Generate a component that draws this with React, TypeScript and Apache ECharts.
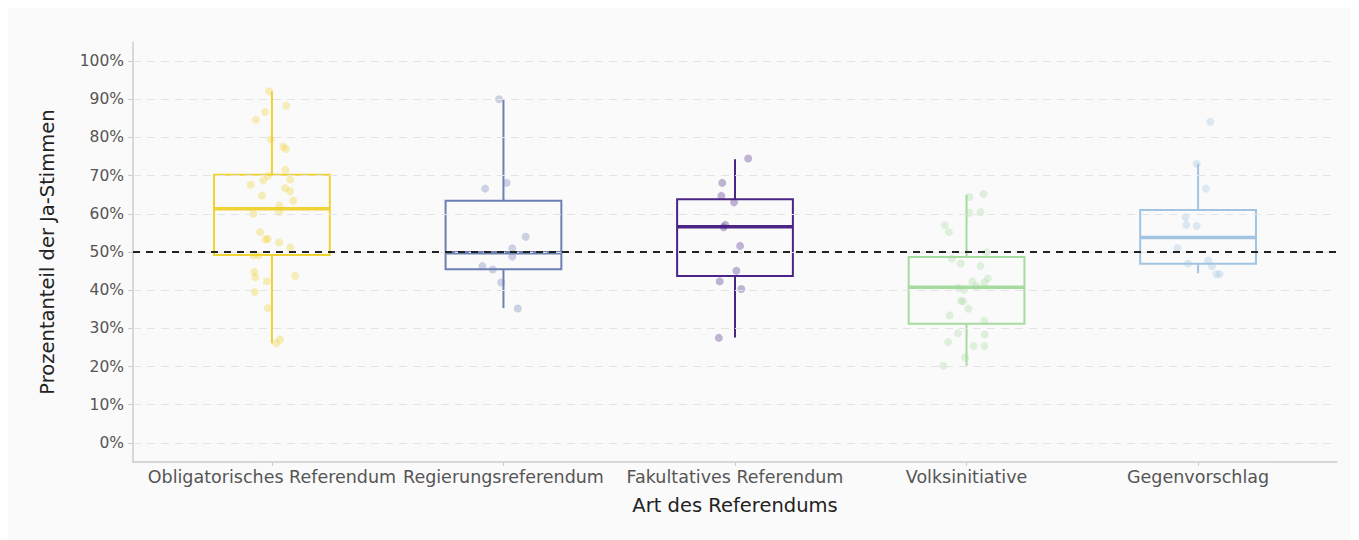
import React, { useEffect, useRef } from "react";
import * as echarts from "echarts";

const categories = [
  "Obligatorisches Referendum",
  "Regierungsreferendum",
  "Fakultatives Referendum",
  "Volksinitiative",
  "Gegenvorschlag",
];
const colors = ["#EFD234", "#6C80B3", "#4A2585", "#A6DBA0", "#A2C4E2"];
const yTicks = [0, 10, 20, 30, 40, 50, 60, 70, 80, 90, 100];
const threshold = 50;

// [min, q1, median, q3, max]
const boxStats = [
  [26.1, 49.2, 61.3, 70.2, 92.1],
  [35.3, 45.5, 49.8, 63.4, 89.8],
  [27.6, 43.7, 56.6, 63.8, 74.3],
  [20.2, 31.2, 40.8, 48.7, 65.0],
  [44.4, 46.9, 53.8, 61.0, 73.1],
];

// observed values (% yes) per category
const obligVals = [92.1, 88.3, 86.7, 84.6, 79.5, 77.6, 77.0, 71.5, 69.9, 68.8, 69.0, 67.6, 66.7, 65.9, 64.8, 63.4, 62.2, 60.4, 60.0, 55.2, 53.3, 53.4, 52.5, 51.2, 49.1, 49.1, 44.8, 43.4, 42.3, 43.8, 39.5, 35.3, 27.1, 26.1];
const obligJit = [-0.013, 0.062, -0.03, -0.069, -0.005, 0.049, 0.06, 0.058, -0.017, -0.037, 0.079, -0.092, 0.057, 0.078, -0.043, 0.092, 0.032, 0.032, -0.08, -0.051, -0.028, -0.018, 0.031, 0.079, -0.08, -0.057, -0.076, -0.072, -0.022, 0.1, -0.074, -0.018, 0.035, 0.019];
const regVals = [90.0, 68.1, 66.6, 54.0, 51.0, 48.8, 46.3, 45.4, 42.0, 35.2];
const regJit = [-0.019, 0.014, -0.079, 0.096, 0.038, 0.038, -0.091, -0.046, -0.01, 0.062];
const fakVals = [74.5, 68.1, 64.7, 63.0, 57.1, 56.5, 51.6, 45.1, 42.3, 40.3, 27.5];
const fakJit = [0.057, -0.055, -0.059, -0.004, -0.042, -0.049, 0.022, 0.006, -0.066, 0.027, -0.07];
const volkVals = [65.2, 64.4, 60.3, 60.4, 57.0, 55.2, 49.9, 48.3, 47.0, 46.3, 43.1, 42.3, 42.0, 41.1, 40.6, 40.1, 37.2, 37.1, 35.1, 33.4, 32.0, 28.7, 28.4, 26.4, 25.4, 25.4, 22.4, 20.2];
const volkJit = [0.073, 0.012, 0.012, 0.06, -0.094, -0.076, 0.087, -0.063, -0.025, 0.06, 0.092, 0.025, 0.077, 0.042, -0.035, -0.011, -0.024, -0.014, 0.008, -0.073, 0.077, -0.037, 0.079, -0.079, 0.031, 0.077, -0.006, -0.1];
const gegVals = [84.1, 73.1, 66.6, 59.1, 57.1, 56.8, 51.0, 47.0, 47.8, 46.3, 44.2, 44.2];
const gegJit = [0.053, -0.006, 0.034, -0.054, -0.051, -0.006, -0.089, -0.044, 0.044, 0.06, 0.079, 0.093];

const pointVals = [obligVals, regVals, fakVals, volkVals, gegVals];
const pointJit = [obligJit, regJit, fakJit, volkJit, gegJit];

const FONT = "'DejaVu Sans', sans-serif";
const BOX_HALF = 0.25;

export default function App() {
  const ref = useRef<HTMLDivElement>(null);
  useEffect(() => {
    if (!ref.current) return;
    const chart = echarts.init(ref.current, undefined, { renderer: "svg" });

    const boxData = boxStats.map((s, i) => [i + 1, ...s]);

    const scatterSeries = pointVals.map((vals, i) => ({
      type: "scatter",
      name: categories[i],
      data: vals.map((v, j) => [i + 1 + pointJit[i][j], v]),
      symbolSize: 8,
      itemStyle: { color: colors[i], opacity: 0.33 },
      z: 3,
      silent: true,
    }));

    chart.setOption({
      animation: false,
      backgroundColor: "#fafafa",
      grid: { left: 125, right: 14, top: 34, bottom: 78 },
      xAxis: {
        type: "value",
        min: 0.4,
        max: 5.6,
        name: "Art des Referendums",
        nameLocation: "middle",
        nameGap: 33,
        nameTextStyle: { fontFamily: FONT, fontSize: 19.5, color: "#222" },
        axisLine: { show: true, onZero: false, lineStyle: { color: "#cccccc", width: 1.5 } },
        axisTick: { show: true, customValues: [1, 2, 3, 4, 5], length: 4, lineStyle: { color: "#cccccc" } },
        axisLabel: {
          customValues: [1, 2, 3, 4, 5],
          formatter: (v: number) => categories[Math.round(v) - 1] ?? "",
          fontFamily: FONT,
          fontSize: 17.5,
          color: "#555",
          margin: 6,
        },
        splitLine: { show: false },
      },
      yAxis: {
        type: "value",
        min: -5,
        max: 105,
        name: "Prozentanteil der Ja-Stimmen",
        nameLocation: "middle",
        nameGap: 76,
        nameTextStyle: { fontFamily: FONT, fontSize: 19.5, color: "#222" },
        axisLine: { show: true, onZero: false, lineStyle: { color: "#cccccc", width: 1.5 } },
        axisTick: { show: true, customValues: yTicks, length: 5, lineStyle: { color: "#cccccc" } },
        axisLabel: {
          customValues: yTicks,
          formatter: (v: number) => `${v}%`,
          fontFamily: FONT,
          fontSize: 15.5,
          color: "#555",
          margin: 9,
        },
        splitLine: { show: false },
      },
      series: [
        {
          type: "line",
          data: [],
          silent: true,
          markLine: {
            silent: true,
            symbol: "none",
            label: { show: false },
            lineStyle: { color: "#e4e4e4", type: [8, 6], width: 1 },
            data: yTicks.map((t) => ({ yAxis: t })),
          },
          z: 1,
        },
        {
          type: "custom",
          data: boxData,
          z: 2,
          silent: true,
          renderItem: (params: any, api: any) => {
            const x = api.value(0);
            const mn = api.value(1), q1 = api.value(2), md = api.value(3), q3 = api.value(4), mx = api.value(5);
            const pL = api.coord([x - BOX_HALF, q3]);
            const pR = api.coord([x + BOX_HALF, q1]);
            const pMin = api.coord([x, mn]);
            const pMax = api.coord([x, mx]);
            const pMdL = api.coord([x - BOX_HALF, md]);
            const pMdR = api.coord([x + BOX_HALF, md]);
            const pQ3 = api.coord([x, q3]);
            const pQ1 = api.coord([x, q1]);
            const c = colors[params.dataIndex];
            const ls = { stroke: c, lineWidth: 2, fill: "none" };
            return {
              type: "group",
              children: [
                { type: "line", shape: { x1: pMax[0], y1: pMax[1], x2: pQ3[0], y2: pQ3[1] }, style: ls },
                { type: "line", shape: { x1: pQ1[0], y1: pQ1[1], x2: pMin[0], y2: pMin[1] }, style: ls },
                {
                  type: "rect",
                  shape: { x: pL[0], y: pL[1], width: pR[0] - pL[0], height: pR[1] - pL[1] },
                  style: ls,
                },
                {
                  type: "line",
                  shape: { x1: pMdL[0], y1: pMdL[1], x2: pMdR[0], y2: pMdR[1] },
                  style: { stroke: c, lineWidth: 3.5 },
                },
              ],
            };
          },
        },
        ...scatterSeries,
        {
          type: "line",
          data: [],
          silent: true,
          markLine: {
            silent: true,
            symbol: "none",
            label: { show: false },
            lineStyle: { color: "#222", type: [7, 6], width: 1.8 },
            data: [{ yAxis: threshold }],
          },
          z: 5,
        },
      ],
    });
    return () => chart.dispose();
  }, []);
  return <div ref={ref} style={{ width: 1343, height: 532 }} />;
}
